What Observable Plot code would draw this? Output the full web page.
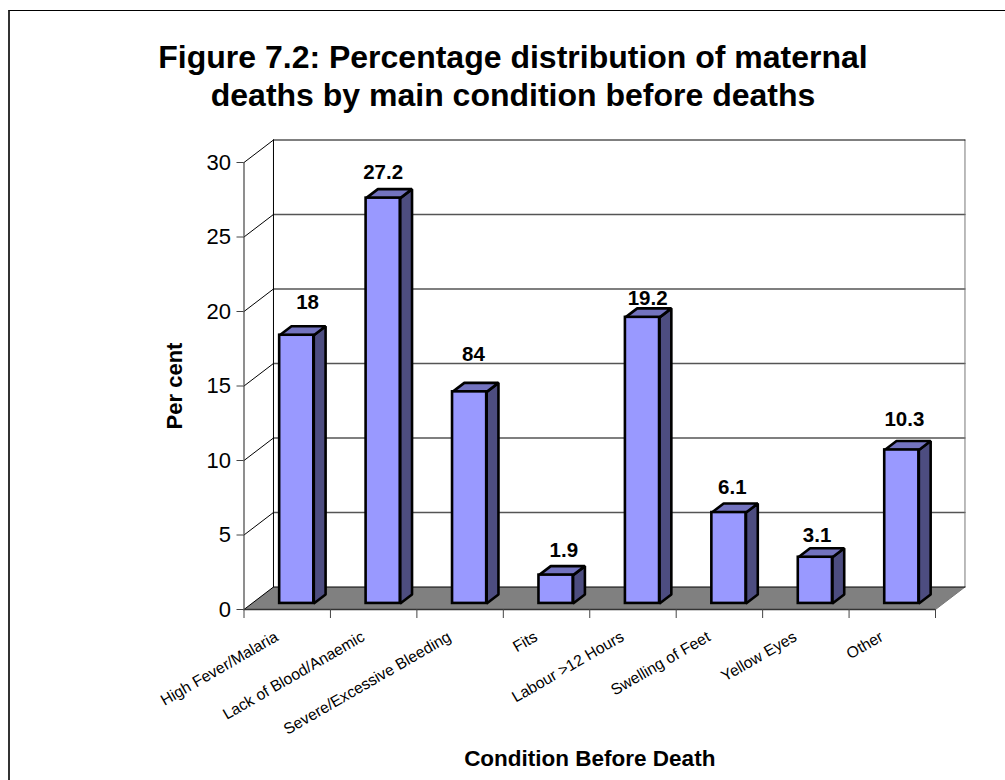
<!DOCTYPE html>
<html>
<head>
<meta charset="utf-8">
<script src="https://cdn.jsdelivr.net/npm/d3@7"></script>
<script src="https://cdn.jsdelivr.net/npm/@observablehq/plot@0.6"></script>
<style>
  html, body { margin: 0; padding: 0; background: #fff; }
  body { width: 1005px; height: 780px; overflow: hidden; position: relative; font-family: "Liberation Sans", Arial, sans-serif; }
  #edge { position: absolute; left: 8px; top: 10px; right: 0; bottom: 0; border-left: 2px solid #333; border-top: 1px solid #000; pointer-events: none; }
  #title { height: 92px; padding: 38px 0 0 21px; text-align: center; font-weight: bold; font-size: 32px; line-height: 38px; color: #000; }
  svg { display: block; }
</style>
</head>
<body>
<div id="edge"></div>
<div id="title">Figure 7.2: Percentage distribution of maternal<br>deaths by main condition before deaths</div>
<div id="chart"></div>
<script>
const conditions = ["High Fever/Malaria", "Lack of Blood/Anaemic", "Severe/Excessive Bleeding", "Fits", "Labour >12 Hours", "Swelling of Feet", "Yellow Eyes", "Other"];
const barHeights = [18, 27.2, 14.2, 1.9, 19.2, 6.1, 3.1, 10.3];
const valueLabels = ["18", "27.2", "84", "1.9", "19.2", "6.1", "3.1", "10.3"];
const labelHeights = [20.6, 29.3, 17.1, 3.96, 20.9, 8.2, 5.0, 12.75];
const labelShift = [0.235, 0.11, 0.155, 0.2, 0.17, 0.15, 0.13, 0.14];
const yTicks = [0, 5, 10, 15, 20, 25, 30];
const xEdges = [0, 1, 2, 3, 4, 5, 6, 7, 8];

// Oblique projection of the chart's depth, in data units
const depthX = 0.341, depthY = 1.51;
const n = conditions.length, yMax = 30;
const front = 0.27, deep = 0.4, barW = 0.395;

const bars = conditions.map((c, i) => {
  const cx = i + 0.5 + front * depthX + 0.018;
  const y0 = front * depthY;
  return {c, x1: cx - barW / 2, x2: cx + barW / 2, y0, y1: y0 + barHeights[i], dx: deep * depthX, dy: deep * depthY};
});
const poly = (rows) => rows.flatMap(([id, pts]) => pts.map(([x, y]) => ({id, x, y})));

const floor = poly([["floor", [[0, 0], [depthX, depthY], [n + depthX, depthY], [n, 0]]]]);
const gridH = poly(yTicks.filter(v => v > 0 && v < yMax).map(v => [v, [[depthX, v + depthY], [n + depthX, v + depthY]]]));
const gridD = poly(yTicks.filter(v => v > 0).map(v => [v, [[0, v], [depthX, v + depthY]]]));
const wallEdges = poly([
  ["top", [[depthX, yMax + depthY], [n + depthX, yMax + depthY]]],
  ["left", [[depthX, depthY], [depthX, yMax + depthY]]],
  ["floorBack", [[0, 0], [depthX, depthY], [n + depthX, depthY]]]
]);
const wallRight = poly([["right", [[n + depthX, depthY], [n + depthX, yMax + depthY], ]], ["rightFloor", [[n, 0], [n + depthX, depthY]]]]);
const sides = poly(bars.map(b => [b.c, [[b.x2, b.y0], [b.x2 + b.dx, b.y0 + b.dy], [b.x2 + b.dx, b.y1 + b.dy], [b.x2, b.y1]]]));
const tops = poly(bars.map(b => [b.c, [[b.x1, b.y1], [b.x1 + b.dx, b.y1 + b.dy], [b.x2 + b.dx, b.y1 + b.dy], [b.x2, b.y1]]]));
const labelRows = conditions.map((c, i) => ({c, i, text: valueLabels[i], h: labelHeights[i], s: labelShift[i]}));

const chart = Plot.plot({
  width: 1005,
  height: 650,
  marginTop: 32,
  marginBottom: 171,
  marginLeft: 243.5,
  marginRight: 70,
  style: {fontFamily: "'Liberation Sans', Arial, sans-serif", background: "transparent", color: "#000", overflow: "visible"},
  x: {domain: [0, n], axis: null},
  y: {domain: [0, yMax], axis: null},
  marks: [
    Plot.line(floor, {x: "x", y: "y", z: "id", fill: "#808080", stroke: "none", curve: "linear-closed"}),
    Plot.line(gridH, {x: "x", y: "y", z: "id", stroke: "#555", strokeWidth: 1.3}),
    Plot.line(gridD, {x: "x", y: "y", z: "id", stroke: "#000", strokeWidth: 1}),
    Plot.line(wallRight, {x: "x", y: "y", z: "id", stroke: "#777", strokeWidth: 1}),
    Plot.line(wallEdges, {x: "x", y: "y", z: "id", stroke: "#000", strokeWidth: 1}),
    Plot.ruleY([0], {stroke: "#333", strokeWidth: 1.5}),
    Plot.ruleX([0], {stroke: "#444", strokeWidth: 1.2}),
    Plot.axisY({ticks: yTicks, tickSize: 7, tickPadding: 6, fontSize: 22, label: null, stroke: "#444", tickFormat: d => d}),
    Plot.axisX({ticks: xEdges, tickSize: 9, tickFormat: () => "", label: null, stroke: "#444"}),
    Plot.line(sides, {x: "x", y: "y", z: "id", fill: "#4D4D80", stroke: "#000", strokeWidth: 2.6, curve: "linear-closed", strokeLinejoin: "miter"}),
    Plot.line(tops, {x: "x", y: "y", z: "id", fill: "#7373BF", stroke: "#000", strokeWidth: 2.6, curve: "linear-closed", strokeLinejoin: "miter"}),
    Plot.rect(bars, {x1: "x1", x2: "x2", y1: "y0", y2: "y1", fill: "#9999FF", stroke: "#000", strokeWidth: 2.6}),
    Plot.text(labelRows, {x: d => d.i + 0.5 + d.s, y: "h", text: "text", fontSize: 20.5, fontWeight: "bold", fill: "#000"}),
    Plot.text(labelRows, {x: d => d.i + 0.5, y: () => 0, text: "c", rotate: -30, textAnchor: "end", lineAnchor: "middle", dx: -10.5, dy: 26, fontSize: 15.7, fill: "#000"}),
    Plot.text(["Condition Before Death"], {x: () => 4, y: () => 0, text: d => d, dy: 149, fontSize: 22.5, fontWeight: "bold", fill: "#000"}),
    Plot.text(["Per cent"], {x: () => 0, y: () => 15, text: d => d, dx: -69, rotate: -90, fontSize: 22, fontWeight: "bold", fill: "#000"})
  ]
});
document.getElementById("chart").appendChild(chart);
</script>
</body>
</html>
